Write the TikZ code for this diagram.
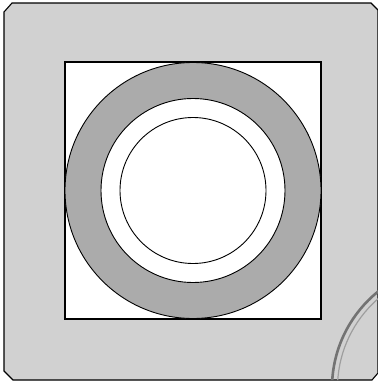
\documentclass[tikz,border=0pt]{standalone}
\usetikzlibrary{calc}
\begin{document}
\begin{tikzpicture}[x=1pt,y=-1pt,
  plate/.style={draw=black,line width=1.1pt,fill=black!18},
  window/.style={draw=black,line width=1.3pt,fill=white},
  band/.style={fill=black!33},
  rim/.style={draw=black,line width=0.9pt},
  lens/.style={draw=black!55,line width=2.6pt},
  lensin/.style={draw=black!38,line width=1.2pt}]
\useasboundingbox (0,0) rectangle (378,381);
% plate with cut corners
\draw[plate] (12,3) -- (371,3) -- (378,10) -- (378,373) -- (372,380) -- (13,380) -- (4,371) -- (4,12) -- cycle;
% lens edge, bottom right
\begin{scope}
  \clip (12,3) -- (371,3) -- (378,10) -- (378,373) -- (372,380) -- (13,380) -- (4,371) -- (4,12) -- cycle;
  \coordinate (L) at (456,388);
  \draw[lens] (L) circle (124);
  \draw[lensin] (L) circle (118.5);
\end{scope}
% square window
\draw[window] (65,62) rectangle (321,319);
\coordinate (O) at (193,190.5);
\fill[band,even odd rule] (O) circle (128) (O) circle (92);
\draw[rim] (O) circle (128);
\draw[rim] (O) circle (92);
\draw[rim] (O) circle (73);
\end{tikzpicture}
\end{document}
